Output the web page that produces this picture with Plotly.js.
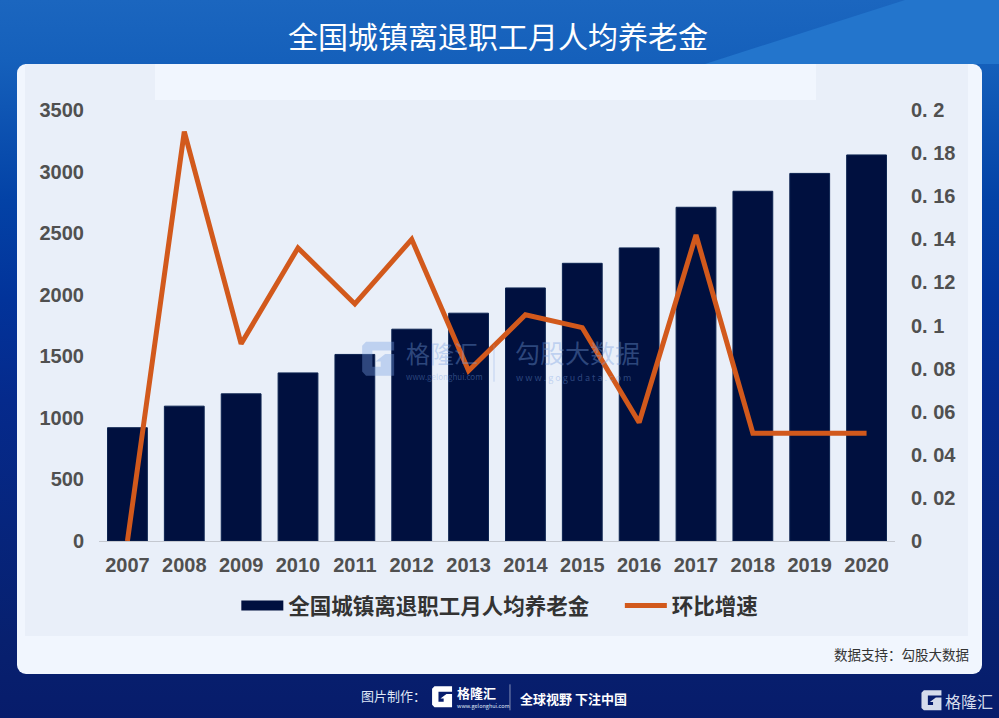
<!DOCTYPE html>
<html><head><meta charset="utf-8">
<script src="https://cdn.plot.ly/plotly-3.0.1.min.js"></script>
<style>
html,body{margin:0;padding:0;width:999px;height:718px;overflow:hidden}
body{position:relative;background:linear-gradient(180deg,#1b66bf 0,#1560bb 60px,#0342a6 200px,#02339a 300px,#052a8c 400px,#07206f 640px,#071c6b 718px)}
.tri{position:absolute;left:0;top:0;width:999px;height:64px;background:#2375cc;clip-path:polygon(705px 64px,905px 0,999px 0,999px 64px)}
.card{position:absolute;left:17px;top:64px;width:965px;height:610px;background:#f1f6fe;border-radius:9px;overflow:hidden}
.panel{position:absolute;left:8px;top:0;width:943px;height:572px;background:#e9eff9}
.strip{position:absolute;left:138px;top:0;width:661px;height:36px;background:#f1f6fe}
#plot{position:absolute;left:0;top:0;width:999px;height:718px}
</style></head><body>
<div class="tri"></div>
<div class="card"><div class="panel"></div><div class="strip"></div></div>
<div id="plot"></div>
<script>
var years=['2007','2008','2009','2010','2011','2012','2013','2014','2015','2016','2017','2018','2019','2020'];
var pension=[920,1095,1195,1365,1515,1720,1850,2055,2255,2380,2710,2840,2985,3135];
var growth=[0,0.19,0.0915,0.136,0.11,0.14,0.079,0.105,0.099,0.055,0.142,0.05,0.05,0.05];
var leftTicks=[0,500,1000,1500,2000,2500,3000,3500];
var rightTicks=[0,0.02,0.04,0.06,0.08,0.1,0.12,0.14,0.16,0.18,0.2];
var rightLabels=['0','0. 02','0. 04','0. 06','0. 08','0. 1','0. 12','0. 14','0. 16','0. 18','0. 2'];
var seriesBar='全国城镇离退职工月人均养老金', seriesLine='环比增速';

var W=999,H=718,L=98.5,R=895.5,T=110,B=541.5;
function px(x){return (x-L)/(R-L);}
function py(y){return (B-y)/(B-T);}
var CJK='"Noto Sans CJK SC",sans-serif';
function note(text,x,y,size,color,anchor){
  return {text:text,xref:'paper',yref:'paper',x:px(x),y:py(y),xanchor:anchor||'center',yanchor:'middle',showarrow:false,
    font:{family:CJK,size:size,color:color},borderpad:0};
}
var wm='rgba(120,160,225,0.38)';
var annotations=[
  note('全国城镇离退职工月人均养老金',498,35,30,'#ffffff'),
  note('数据支持：勾股大数据',971,655,13.5,'#333333','right'),
  note('格隆汇',405,353,24,wm,'left'),
  note('www.gelonghui.com',405,377,8,wm,'left'),
  note('勾股大数据',514,352,25,wm,'left'),
  note('w w w . g o g u d a t a . c o m',515,377.5,9,wm,'left'),
  note('图片制作：',360,696,13,'#dfe6f5','left'),
  note('<b>格隆汇</b>',456,693,13,'#ffffff','left'),
  note('www.gelonghui.com',456,706.5,5.5,'#dfe6f5','left'),
  note('<b>全球视野 下注中国</b>',519,699,13,'#ffffff','left'),
  note('格隆汇',945,702,16,'#d5dcec','left')
];
// block-letter G logo, drawn in pixel-derived paper coordinates
function logo(x0,y0,w,h,color){
  var p=[[0,.12],[.12,0],[1,0],[1,.26],[.32,.26],[.32,.74],[.58,.74],[.58,.58],[.42,.58],[.72,.36],[1,.36],[1,1],[.12,1],[0,.88]];
  var d=p.map(function(q,i){return (i?'L':'M')+px(x0+q[0]*w)+','+py(y0+q[1]*h);}).join(' ')+' Z';
  return {type:'path',xref:'paper',yref:'paper',path:d,fillcolor:color,line:{width:0}};
}
var shapes=[
  {type:'line',xref:'paper',yref:'paper',x0:px(510),x1:px(510),y0:py(685),y1:py(711),line:{color:'rgba(255,255,255,0.5)',width:1}},
  {type:'line',xref:'paper',yref:'paper',x0:px(494),x1:px(494),y0:py(345),y1:py(382),line:{color:wm,width:1}},
  logo(362,342,32,34,wm),
  logo(432,687,20,21,'#ffffff'),
  logo(922,691,20,20,'#d5dcec')
];
var traces=[
  {type:'bar',x:years,y:pension,name:seriesBar,showlegend:false,width:0.7,marker:{color:'#00103f',line:{color:'#0c2350',width:1}},yaxis:'y'},
  {type:'scatter',mode:'lines',x:[null],y:[null],name:seriesBar,line:{color:'#00103f',width:12},yaxis:'y',hoverinfo:'skip',legend:'legend'},
  {type:'scatter',mode:'lines',x:years,y:growth,name:seriesLine,line:{color:'#d2591c',width:5},yaxis:'y2',legend:'legend2'}
];
var tickFont={family:'"Liberation Sans",Arial,sans-serif',size:20,color:'#505050',weight:'bold'};
var legendFont={family:CJK,size:21.5,color:'#333333',weight:'bold'};
var layout={
  width:W,height:H,margin:{l:L,r:W-R,t:T,b:H-B,pad:0},autosize:false,
  paper_bgcolor:'rgba(0,0,0,0)',plot_bgcolor:'rgba(0,0,0,0)',showlegend:true,bargap:0.3,
  font:{family:CJK},
  xaxis:{type:'category',categoryorder:'array',categoryarray:years,range:[-0.5,13.5],showgrid:false,showline:true,linecolor:'#c4c8d0',linewidth:1,ticks:'',tickfont:tickFont,ticklabelstandoff:6,zeroline:false,automargin:false},
  yaxis:{range:[0,3500],tickvals:leftTicks,ticktext:leftTicks.map(String),showgrid:false,zeroline:false,showline:false,ticks:'',tickfont:tickFont,ticklabelstandoff:14,automargin:false},
  yaxis2:{range:[0,0.2],overlaying:'y',side:'right',tickvals:rightTicks,ticktext:rightLabels,showgrid:false,zeroline:false,showline:false,ticks:'',tickfont:tickFont,ticklabelstandoff:15,automargin:false},
  legend:{orientation:'h',x:px(236),y:py(606),xanchor:'left',yanchor:'middle',itemwidth:42,bgcolor:'rgba(0,0,0,0)',itemclick:false,font:legendFont},
  legend2:{orientation:'h',x:px(620),y:py(606),xanchor:'left',yanchor:'middle',itemwidth:42,bgcolor:'rgba(0,0,0,0)',itemclick:false,font:legendFont},
  annotations:annotations,shapes:shapes
};
Plotly.newPlot('plot',traces,layout,{displayModeBar:false,responsive:false});
</script></body></html>
